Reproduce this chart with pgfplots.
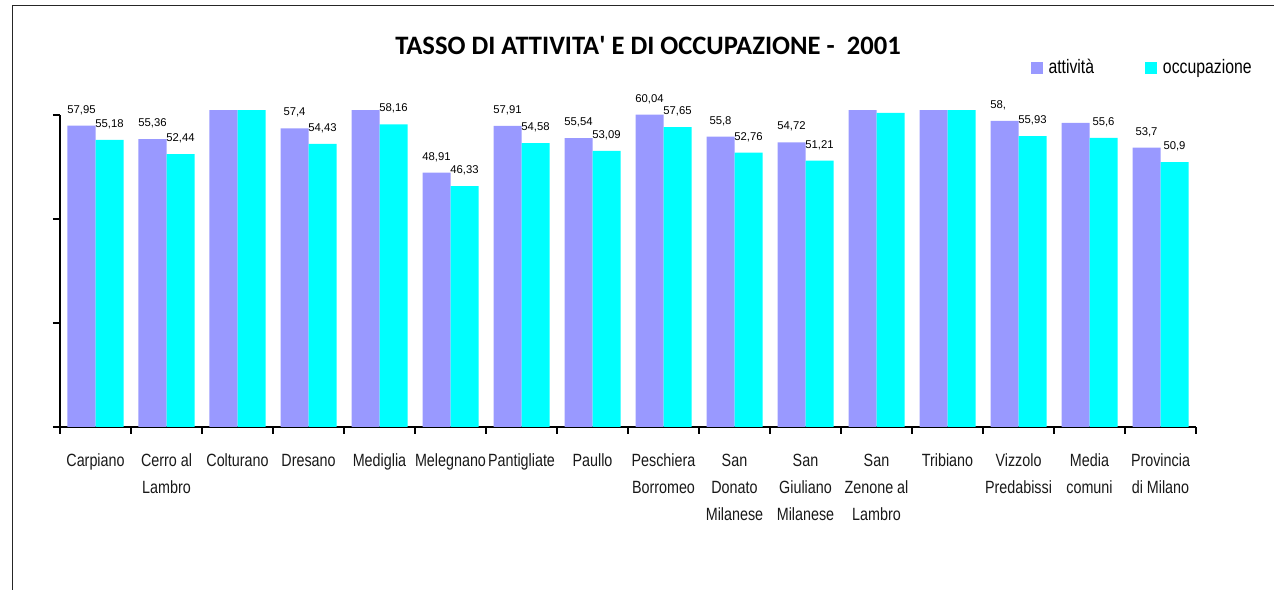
\documentclass[border=0pt]{standalone}
\usepackage{fontspec}
\setmainfont{Liberation Sans}
\newfontfamily\narrowfont[FakeStretch=0.81]{Liberation Sans}
\newfontfamily\titlefont{Carlito}
\usepackage{pgfplots}
\usepackage{pgfplotstable}
\pgfplotsset{compat=1.18}
\definecolor{attcol}{HTML}{9999FF}
\definecolor{occcol}{HTML}{00FFFF}

\pgfplotstableread{
x y lab
0 57.95 57,95
1 55.36 55,36
2 62.5 {}
3 57.40 57,4
4 61.5 {}
5 48.91 48,91
6 57.91 57,91
7 55.54 55,54
8 60.04 60,04
9 55.80 55,8
10 54.72 54,72
11 62.0 {}
12 62.2 {}
13 58.85 {58,\phantom{88}}
14 58.45 {}
15 53.70 53,7
}\att

\pgfplotstableread{
x y lab
0 55.18 55,18
1 52.44 52,44
2 61.8 {}
3 54.43 54,43
4 58.16 58,16
5 46.33 46,33
6 54.58 54,58
7 53.09 53,09
8 57.65 57,65
9 52.76 52,76
10 51.21 51,21
11 60.38 {}
12 61.5 {}
13 55.93 55,93
14 55.60 55,6
15 50.90 50,9
}\occ

\begin{document}
\begin{tikzpicture}
\path[use as bounding box] (0,0) rectangle (1274pt,589pt);
\draw[line width=1.3pt, black!85] (12.7pt,-5pt) -- (12.7pt,583.3pt) -- (1280pt,583.3pt);
\node[font=\titlefont\bfseries\fontsize{26.6}{30}\selectfont, anchor=base, inner sep=0pt] at (648pt,534pt) {TASSO DI ATTIVITA\textquotesingle\ E DI OCCUPAZIONE - \ 2001};
\begin{axis}[
  at={(60pt,162pt)}, anchor=south west,
  scale only axis, width=1136pt, height=316pt,
  xmin=-0.5, xmax=15.5, ymin=0, ymax=60.75,
  ybar=0pt, bar width=28pt,
  axis lines=left,
  axis line style={-, line width=1.2pt, black},
  y axis line style={draw=none},
  xtick={-0.5,0.5,...,15.5},
  x tick label as interval,
  xticklabels={\strut Carpiano,\strut Cerro al\\Lambro,\strut Colturano,\strut Dresano,\strut Mediglia,\strut Melegnano,\strut Pantigliate,\strut Paullo,\strut Peschiera\\Borromeo,\strut San\\Donato\\Milanese,\strut San\\Giuliano\\Milanese,\strut San\\Zenone al\\Lambro,\strut Tribiano,\strut Vizzolo\\Predabissi,\strut Media\\comuni,\strut Provincia\\di Milano},
  ytick={0,20,40,60}, yticklabels={},
  tick align=outside, major tick length=7pt,
  tick style={line width=1.2pt, black},
  xticklabel style={font=\narrowfont\fontsize{17.7}{27}\selectfont, align=center, anchor=north, inner sep=0pt, yshift=-13pt, text=black!90},
  point meta=explicit symbolic,
  nodes near coords,
  nodes near coords style={font=\fontsize{11.3}{13}\selectfont, anchor=base, inner sep=0pt, yshift=12.5pt, text=black},
  legend columns=2,
  legend style={at={(0.8545,1.139)}, anchor=west, draw=none, fill=none, inner sep=0pt, outer sep=0pt,
    font=\narrowfont\fontsize{19.5}{22}\selectfont,
    nodes={inner sep=0pt},
    /tikz/every odd column/.append style={column sep=5.5pt},
    /tikz/every even column/.append style={column sep=51pt}},
  legend image code/.code={\fill[#1] (0pt,-7pt) rectangle (12.3pt,5.3pt);},
]
\addplot[fill=attcol, draw=none] table[x=x, y=y, meta=lab] {\att};
\addlegendentry{attività}
\addplot[fill=occcol, draw=none] table[x=x, y=y, meta=lab] {\occ};
\addlegendentry{occupazione}
\coordinate (ya) at (axis cs:-0.5,0);
\coordinate (yb) at (axis cs:-0.5,60);
\end{axis}
\draw[line width=1.2pt, black] (ya) -- (yb);
\end{tikzpicture}
\end{document}
